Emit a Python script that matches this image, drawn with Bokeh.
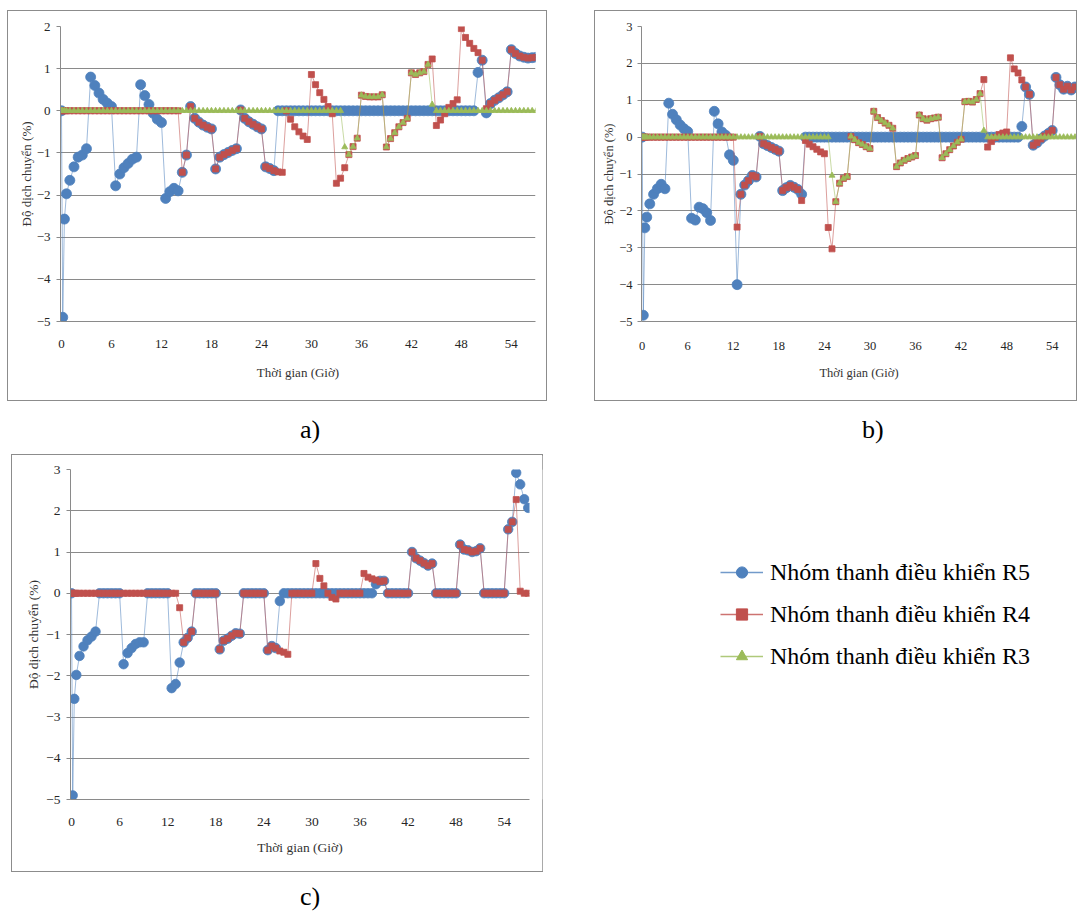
from bokeh.plotting import figure
from bokeh.models import Range1d, FixedTicker, Legend, LegendItem, Div, Spacer
from bokeh.layouts import row, column
from bokeh.embed import file_html
from bokeh.resources import INLINE

BLUE = "#4F81BD"
RED = "#C0504D"
GREEN = "#9BBB59"
FONT = "Liberation Serif"
GRID = "#8a8a8a"

# sampling times (hours)
T = [0, 0.15, 0.35, 0.6] + [1 + 0.5 * i for i in range(113)]
X_TICKS = [0, 6, 12, 18, 24, 30, 36, 42, 48, 54]
X_TITLE = "Thời gian (Giờ)"
Y_TITLE = "Độ dịch chuyển (%)"
LABELS = ["Nhóm thanh điều khiển R5", "Nhóm thanh điều khiển R4", "Nhóm thanh điều khiển R3"]

# ---------------- chart a ----------------
A_R5 = [
    0, -4.9, -2.57, -1.97, -1.65, -1.33, -1.1, -1.05, -0.9, 0.8, 0.6, 0.42, 0.27, 0.18,
    0.1, -1.78, -1.5, -1.35, -1.25, -1.15, -1.1, 0.62, 0.36, 0.15, -0.06, -0.2,
    -0.28, -2.08, -1.92, -1.84, -1.9, -1.46, -1.05, 0.1, -0.18, -0.27, -0.34, -0.39,
    -0.43, -1.38, -1.1, -1.04, -0.99, -0.94, -0.9, 0.02, -0.18, -0.26, -0.32, -0.38,
    -0.43, -1.33, -1.37, -1.42, 0, 0, 0, 0, 0, 0, 0, 0,
    0, 0, 0, 0, 0, 0, 0, 0, 0, 0, 0, 0,
    0, 0, 0, 0, 0, 0, 0, 0, 0, 0, 0, 0,
    0, 0, 0, 0, 0, 0, 0, 0, 0, 0, 0, 0,
    0, 0, 0, 0, 0.91, 1.2, -0.05, 0.17, 0.25, 0.31, 0.38, 0.45,
    1.45, 1.36, 1.3, 1.27, 1.25, 1.26, 1.27,
]
A_R4 = [
    0, 0, 0, 0, 0, 0, 0, 0, 0, 0, 0, 0, 0, 0,
    0, 0, 0, 0, 0, 0, 0, 0, 0, 0, 0, 0,
    0, 0, 0, 0, 0, -1.46, -1.05, 0.1, -0.18, -0.27, -0.34, -0.39,
    -0.43, -1.38, -1.1, -1.04, -0.99, -0.94, -0.9, 0.02, -0.18, -0.26, -0.32, -0.38,
    -0.43, -1.33, -1.37, -1.42, -1.45, -1.46, 0, -0.2, -0.38, -0.5, -0.6, -0.68,
    0.86, 0.62, 0.43, 0.27, 0.1, -0.07, -1.72, -1.6, -1.35, -1.04, -0.85, -0.65,
    0.37, 0.34, 0.33, 0.33, 0.33, 0.38, -0.86, -0.66, -0.52, -0.38, -0.28, -0.18,
    0.9, 0.86, 0.9, 0.93, 1.1, 1.23, -0.35, -0.22, -0.07, 0.08, 0.17, 0.26,
    1.95, 1.74, 1.6, 1.48, 1.38, 1.2, 0.05, 0.17, 0.25, 0.31, 0.38, 0.45,
    1.45, 1.36, 1.3, 1.27, 1.25, 1.26, 1.27,
]
A_R3 = [
    0, 0, 0, 0, 0, 0, 0, 0, 0, 0, 0, 0, 0, 0,
    0, 0, 0, 0, 0, 0, 0, 0, 0, 0, 0, 0,
    0, 0, 0, 0, 0, 0, 0, 0, 0, 0, 0, 0,
    0, 0, 0, 0, 0, 0, 0, 0, 0, 0, 0, 0,
    0, 0, 0, 0, 0, 0, 0, 0, 0, 0, 0, 0,
    0, 0, 0, 0, 0, 0, 0, 0, -0.86, -1.04, -0.85, -0.65,
    0.37, 0.34, 0.33, 0.33, 0.33, 0.38, -0.86, -0.66, -0.52, -0.38, -0.28, -0.18,
    0.9, 0.86, 0.9, 0.93, 1.1, 0.15, 0, 0, 0, 0, 0, 0,
    0, 0, 0, 0, 0, 0, 0, 0, 0, 0, 0, 0,
    0, 0, 0, 0, 0, 0, 0,
]

# ---------------- chart b ----------------
B_R5 = [
    0, -4.83, -2.46, -2.17, -1.81, -1.55, -1.4, -1.28, -1.4, 0.92, 0.62, 0.47, 0.33, 0.23,
    0.15, -2.2, -2.25, -1.9, -1.94, -2.05, -2.26, 0.7, 0.36, 0.14, 0.05, -0.48,
    -0.63, -4.0, -1.55, -1.3, -1.18, -1.04, -1.08, 0.02, -0.18, -0.23, -0.28, -0.33,
    -0.38, -1.45, -1.37, -1.31, -1.36, -1.42, -1.55, 0, 0, 0, 0, 0,
    0, 0, 0, 0, 0, 0, 0, 0, 0, 0, 0, 0,
    0, 0, 0, 0, 0, 0, 0, 0, 0, 0, 0, 0,
    0, 0, 0, 0, 0, 0, 0, 0, 0, 0, 0, 0,
    0, 0, 0, 0, 0, 0, 0, 0, 0, 0, 0, 0,
    0, 0, 0, 0, 0.29, 1.36, 1.16, -0.22, -0.15, -0.05, 0.03, 0.1,
    0.18, 1.62, 1.42, 1.3, 1.38, 1.28, 1.36,
]
B_R4 = [
    0, 0, 0, 0, 0, 0, 0, 0, 0, 0, 0, 0, 0, 0,
    0, 0, 0, 0, 0, 0, 0, 0, 0, 0, 0, 0,
    0, -2.44, -1.55, -1.3, -1.18, -1.04, -1.08, 0.02, -0.18, -0.23, -0.28, -0.33,
    -0.38, -1.45, -1.37, -1.31, -1.36, -1.42, -1.72, -0.09, -0.19, -0.26, -0.33, -0.4,
    -0.45, -2.45, -3.03, -1.75, -1.25, -1.12, -1.07, 0.02, -0.07, -0.15, -0.2, -0.26,
    -0.31, 0.7, 0.53, 0.45, 0.38, 0.32, 0.24, -0.8, -0.7, -0.63, -0.58, -0.54,
    -0.5, 0.6, 0.5, 0.46, 0.5, 0.52, 0.54, -0.56, -0.45, -0.34, -0.24, -0.14,
    -0.06, 0.96, 0.97, 0.95, 1.02, 1.18, 1.56, -0.27, -0.12, -0.01, 0.07, 0.11,
    0.14, 2.15, 1.85, 1.74, 1.55, 1.36, 1.16, -0.22, -0.15, -0.05, 0.03, 0.1,
    0.18, 1.62, 1.42, 1.3, 1.38, 1.28, 1.36,
]
B_R3 = [
    0, 0, 0, 0, 0, 0, 0, 0, 0, 0, 0, 0, 0, 0,
    0, 0, 0, 0, 0, 0, 0, 0, 0, 0, 0, 0,
    0, 0, 0, 0, 0, 0, 0, 0, 0, 0, 0, 0,
    0, 0, 0, 0, 0, 0, 0, 0, 0, 0, 0, 0,
    0, 0, -1.04, -1.75, -1.25, -1.12, -1.07, 0.02, -0.07, -0.15, -0.2, -0.26,
    -0.31, 0.7, 0.53, 0.45, 0.38, 0.32, 0.24, -0.8, -0.7, -0.63, -0.58, -0.54,
    -0.5, 0.6, 0.5, 0.46, 0.5, 0.52, 0.54, -0.56, -0.45, -0.34, -0.24, -0.14,
    -0.06, 0.96, 0.97, 0.95, 1.02, 1.18, 0.18, 0, 0, 0, 0, 0,
    0, 0, 0, 0, 0, 0, 0, 0, 0, 0, 0, 0,
    0, 0, 0, 0, 0, 0, 0,
]

# ---------------- chart c ----------------
C_R5 = [
    0, -4.9, -2.56, -1.98, -1.52, -1.29, -1.14, -1.05, -0.93, 0, 0, 0, 0, 0,
    0, -1.72, -1.45, -1.33, -1.23, -1.19, -1.19, 0, 0, 0, 0, 0,
    0, -2.3, -2.2, -1.68, -1.19, -1.08, -0.93, 0, 0, 0, 0, 0,
    0, -1.36, -1.15, -1.1, -1.03, -0.97, -0.98, 0, 0, 0, 0, 0,
    0, -1.38, -1.28, -1.33, -0.19, 0, 0, 0, 0, 0, 0, 0,
    0, 0, 0, 0, 0, 0, 0, 0, 0, 0, 0, 0,
    0, 0, 0, 0, 0.22, 0.3, 0.3, 0, 0, 0, 0, 0,
    0, 1.0, 0.85, 0.79, 0.73, 0.67, 0.72, 0, 0, 0, 0, 0,
    0, 1.18, 1.06, 1.04, 1.0, 1.02, 1.09, 0, 0, 0, 0, 0,
    0, 1.55, 1.73, 2.92, 2.64, 2.28, 2.07,
]
C_R4 = [
    0, 0, 0, 0, 0, 0, 0, 0, 0, 0, 0, 0, 0, 0,
    0, 0, 0, 0, 0, 0, 0, 0, 0, 0, 0, 0,
    0, 0, 0, -0.35, -1.19, -1.08, -0.93, 0, 0, 0, 0, 0,
    0, -1.36, -1.15, -1.1, -1.03, -0.97, -0.98, 0, 0, 0, 0, 0,
    0, -1.38, -1.28, -1.33, -1.4, -1.43, -1.48, 0, 0, 0, 0, 0,
    0, 0.72, 0.36, 0.18, 0, -0.1, -0.14, 0, 0, 0, 0, 0,
    0, 0.48, 0.39, 0.35, 0.32, 0.28, 0.3, 0, 0, 0, 0, 0,
    0, 1.0, 0.85, 0.79, 0.73, 0.67, 0.72, 0, 0, 0, 0, 0,
    0, 1.18, 1.06, 1.04, 1.0, 1.02, 1.09, 0, 0, 0, 0, 0,
    0, 1.55, 1.73, 2.27, 0.05, 0, 0,
]

for s in (A_R5, A_R4, A_R3, B_R5, B_R4, B_R3, C_R5, C_R4):
    assert len(s) == len(T), len(s)


def make_chart(series, w, h, xr, yr, yticks, borders, tick_fs, title_fs,
               y_std, x_std, y_title_std, x_title_std, blue_size):
    left, right, top, bottom = borders
    p = figure(width=w, height=h, x_range=Range1d(*xr), y_range=Range1d(*yr),
               output_backend="svg", toolbar_location=None,
               min_border_left=left, min_border_right=right,
               min_border_top=top, min_border_bottom=bottom,
               background_fill_color="white", border_fill_color="white")
    p.outline_line_color = None
    p.xgrid.visible = False
    p.ygrid.grid_line_color = GRID
    p.ygrid.grid_line_width = 1
    p.xaxis.ticker = FixedTicker(ticks=X_TICKS)
    p.yaxis.ticker = FixedTicker(ticks=yticks)
    for ax in (p.xaxis, p.yaxis):
        ax.axis_line_color = GRID
        ax.major_tick_line_color = GRID
        ax.minor_tick_line_color = None
        ax.major_tick_in = 0
        ax.major_label_text_font = FONT
        ax.major_label_text_font_size = tick_fs
        ax.major_label_text_color = "#262626"
        ax.axis_label_text_font = FONT
        ax.axis_label_text_font_size = title_fs
        ax.axis_label_text_font_style = "normal"
        ax.axis_label_text_color = "#333333"
    p.xaxis.major_tick_out = 0
    p.yaxis.major_tick_out = 4
    p.yaxis.major_label_standoff = y_std
    p.xaxis.major_label_standoff = x_std
    p.yaxis.axis_label_standoff = y_title_std
    p.xaxis.axis_label_standoff = x_title_std
    p.xaxis.axis_label = X_TITLE
    p.yaxis.axis_label = Y_TITLE
    styles = [(BLUE, "circle", blue_size), (RED, "square", 6), (GREEN, "triangle", 6)]
    for vals, (color, marker, size) in zip(series, styles):
        p.line(T, vals, line_color=color, line_width=1, line_alpha=0.55)
        p.scatter(T, vals, marker=marker, size=size, fill_color=color,
                  line_color=color, line_alpha=0.8)
    p.styles = {"box-shadow": "0 0 0 1px #8c8c8c"}
    return p


fa = make_chart([A_R5, A_R4, A_R3], 538, 389, (-0.12, 56.9), (-5, 2), list(range(-5, 3)),
                (52, 11, 15, 74), "13px", "13px", 6, 18, 0, 14, 10)
fb = make_chart([B_R5, B_R4, B_R3], 481, 389, (-0.09, 57.2), (-5, 3), list(range(-5, 4)),
                (46, 0, 14, 79), "12.5px", "12.5px", 5, 20, 0, 13, 10)
fc = make_chart([C_R5, C_R4], 530, 416, (-0.125, 57.16), (-5, 3), list(range(-5, 4)),
                (58, 13, 14, 72), "13.5px", "13.5px", 6, 18, 2, 11, 9.5)

# legend panel
lg = figure(width=534, height=416, x_range=Range1d(0, 1), y_range=Range1d(0, 1),
            output_backend="svg", toolbar_location=None, x_axis_type=None, y_axis_type=None,
            min_border=0, background_fill_color="white", border_fill_color="white")
lg.outline_line_color = None
NAN = [float("nan")]
items = []
for lab, color, marker in zip(LABELS, [BLUE, RED, GREEN], ["circle", "square", "triangle"]):
    rl = lg.line(x=NAN, y=NAN, line_color=color, line_width=1.5, line_alpha=0.8)
    rm = lg.scatter(x=NAN, y=NAN, marker=marker, fill_color=color, line_color=color)
    items.append(LegendItem(label=lab, renderers=[rl, rm]))
legend = Legend(items=items, location=(178, 129), glyph_width=43, glyph_height=28,
                label_height=28, spacing=14, padding=0, margin=0, label_standoff=7,
                label_text_font=FONT, label_text_font_size="24px", label_text_color="#000000",
                border_line_color=None, background_fill_alpha=0)
lg.add_layout(legend)


def label_div(txt, top, h):
    html = ('<div style="position:relative;top:%dpx;font-family:\'Liberation Serif\';'
            'font-size:26px;line-height:26px;color:#000;white-space:nowrap;">%s</div>' % (top, txt))
    return Div(text=html, width=30, height=h, margin=0, styles={"overflow": "hidden"})


layout = column(
    Spacer(height=11, margin=0),
    row(Spacer(width=8, margin=0), fa, Spacer(width=49, margin=0), fb),
    row(Spacer(width=300, margin=0), label_div("a)", 17, 55), Spacer(width=532, margin=0),
        label_div("b)", 17, 55)),
    row(Spacer(width=12, margin=0), fc, lg),
    row(Spacer(width=300, margin=0), label_div("c)", 13, 40)),
)

open("out.html", "w").write(file_html(layout, INLINE))
